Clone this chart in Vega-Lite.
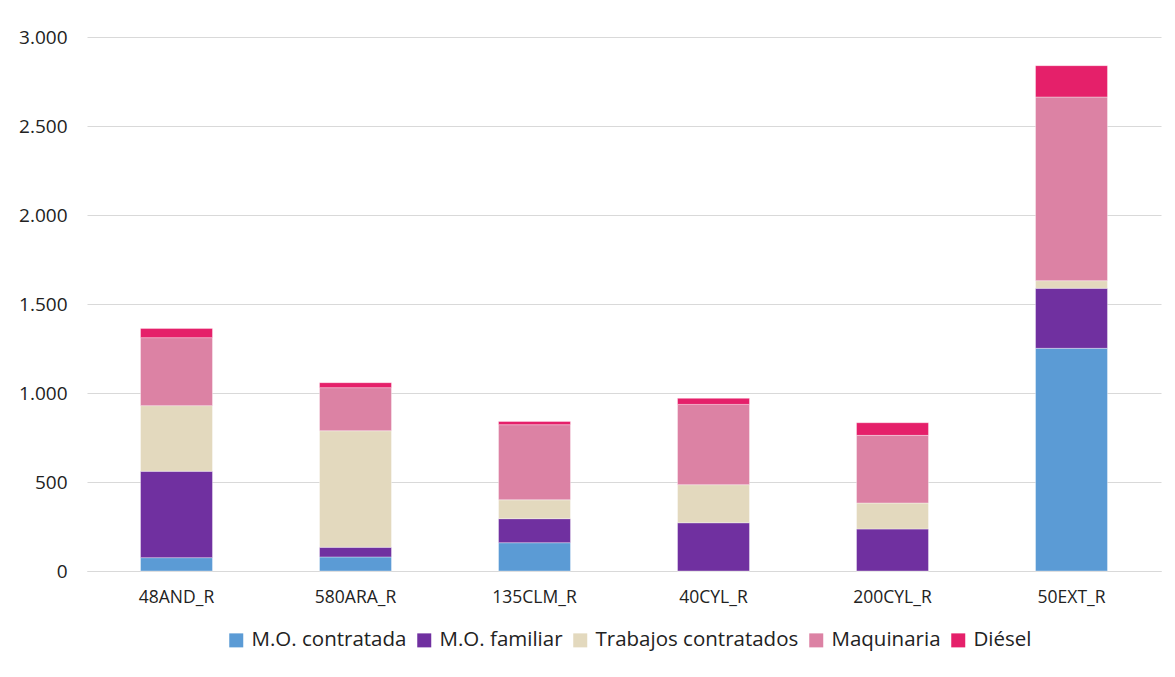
{
  "$schema": "https://vega.github.io/schema/vega-lite/v6.json",
  "width": 1074,
  "height": 534,
  "autosize": {"type": "none"},
  "padding": {"left": 87, "top": 37, "right": 14, "bottom": 106},
  "background": "white",
  "config": {
    "font": "Open Sans",
    "view": {"stroke": null},
    "locale": {"number": {"decimal": ",", "thousands": ".", "grouping": [3], "currency": ["", " €"]}}
  },
  "data": {
    "values": [
      {"region": "48AND_R", "concepto": "M.O. contratada", "orden": 1, "valor": 75},
      {"region": "48AND_R", "concepto": "M.O. familiar", "orden": 2, "valor": 485},
      {"region": "48AND_R", "concepto": "Trabajos contratados", "orden": 3, "valor": 369},
      {"region": "48AND_R", "concepto": "Maquinaria", "orden": 4, "valor": 382},
      {"region": "48AND_R", "concepto": "Diésel", "orden": 5, "valor": 52},
      {"region": "580ARA_R", "concepto": "M.O. contratada", "orden": 1, "valor": 79},
      {"region": "580ARA_R", "concepto": "M.O. familiar", "orden": 2, "valor": 54},
      {"region": "580ARA_R", "concepto": "Trabajos contratados", "orden": 3, "valor": 655},
      {"region": "580ARA_R", "concepto": "Maquinaria", "orden": 4, "valor": 242},
      {"region": "580ARA_R", "concepto": "Diésel", "orden": 5, "valor": 28},
      {"region": "135CLM_R", "concepto": "M.O. contratada", "orden": 1, "valor": 159},
      {"region": "135CLM_R", "concepto": "M.O. familiar", "orden": 2, "valor": 135},
      {"region": "135CLM_R", "concepto": "Trabajos contratados", "orden": 3, "valor": 106},
      {"region": "135CLM_R", "concepto": "Maquinaria", "orden": 4, "valor": 422},
      {"region": "135CLM_R", "concepto": "Diésel", "orden": 5, "valor": 18},
      {"region": "40CYL_R", "concepto": "M.O. contratada", "orden": 1, "valor": 0},
      {"region": "40CYL_R", "concepto": "M.O. familiar", "orden": 2, "valor": 271},
      {"region": "40CYL_R", "concepto": "Trabajos contratados", "orden": 3, "valor": 214},
      {"region": "40CYL_R", "concepto": "Maquinaria", "orden": 4, "valor": 451},
      {"region": "40CYL_R", "concepto": "Diésel", "orden": 5, "valor": 34},
      {"region": "200CYL_R", "concepto": "M.O. contratada", "orden": 1, "valor": 0},
      {"region": "200CYL_R", "concepto": "M.O. familiar", "orden": 2, "valor": 236},
      {"region": "200CYL_R", "concepto": "Trabajos contratados", "orden": 3, "valor": 146},
      {"region": "200CYL_R", "concepto": "Maquinaria", "orden": 4, "valor": 380},
      {"region": "200CYL_R", "concepto": "Diésel", "orden": 5, "valor": 71},
      {"region": "50EXT_R", "concepto": "M.O. contratada", "orden": 1, "valor": 1251},
      {"region": "50EXT_R", "concepto": "M.O. familiar", "orden": 2, "valor": 337},
      {"region": "50EXT_R", "concepto": "Trabajos contratados", "orden": 3, "valor": 43},
      {"region": "50EXT_R", "concepto": "Maquinaria", "orden": 4, "valor": 1032},
      {"region": "50EXT_R", "concepto": "Diésel", "orden": 5, "valor": 176}
    ]
  },
  "mark": {"type": "bar", "stroke": "white", "strokeWidth": 0.6, "strokeOpacity": 0.6},
  "encoding": {
    "x": {
      "field": "region",
      "type": "nominal",
      "sort": ["48AND_R", "580ARA_R", "135CLM_R", "40CYL_R", "200CYL_R", "50EXT_R"],
      "scale": {"paddingInner": 0.598, "paddingOuter": 0.299},
      "axis": {
        "title": null,
        "labelAngle": 0,
        "labelFontSize": 17.5,
        "labelColor": "#222222",
        "labelPadding": 17,
        "ticks": false,
        "domainColor": "#d9d9d9",
        "domainWidth": 1
      }
    },
    "y": {
      "field": "valor",
      "type": "quantitative",
      "stack": "zero",
      "scale": {"domain": [0, 3000], "nice": false},
      "axis": {
        "title": null,
        "values": [0, 500, 1000, 1500, 2000, 2500, 3000],
        "format": ",.0f",
        "labelFontSize": 19,
        "labelColor": "#222222",
        "labelPadding": 20,
        "ticks": false,
        "domain": false,
        "gridColor": "#d9d9d9",
        "gridWidth": 1
      }
    },
    "color": {
      "field": "concepto",
      "type": "nominal",
      "sort": ["M.O. contratada", "M.O. familiar", "Trabajos contratados", "Maquinaria", "Diésel"],
      "scale": {
        "domain": ["M.O. contratada", "M.O. familiar", "Trabajos contratados", "Maquinaria", "Diésel"],
        "range": ["#5B9BD5", "#7030A0", "#E3D9BE", "#DC82A4", "#E5206A"]
      },
      "legend": {
        "title": null,
        "orient": "none",
        "legendX": 139,
        "legendY": 593,
        "direction": "horizontal",
        "symbolType": "square",
        "symbolSize": 196,
        "symbolStrokeWidth": 0,
        "labelFontSize": 20.5,
        "labelLimit": 400,
        "labelColor": "#222222",
        "columnPadding": 7,
        "labelOffset": 5
      }
    },
    "order": {"field": "orden", "type": "quantitative", "sort": "ascending"}
  }
}
